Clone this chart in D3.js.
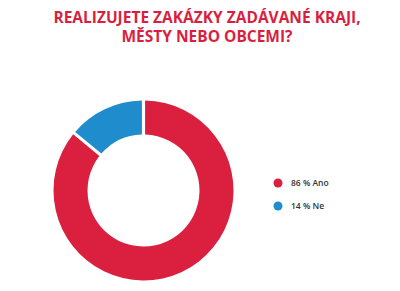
<!DOCTYPE html>
<html><head><meta charset="utf-8">
<script src="https://cdn.jsdelivr.net/npm/d3@7"></script>
<style>body{margin:0;background:#fff}svg{display:block}</style>
</head><body>
<svg id="c" width="400" height="291"></svg>
<script>
const titleLines = ["REALIZUJETE ZAKÁZKY ZADÁVANÉ KRAJI,", "MĚSTY NEBO OBCEMI?"];
const categories = ["Ano", "Ne"];
const values = [86, 14];
const colors = ["#da1f3f", "#1f8dcd"];

const svg = d3.select("#c");
svg.append("g").selectAll("text").data(titleLines).join("text")
  .attr("x", 207).attr("y", (d, i) => 23 + i * 19)
  .attr("text-anchor", "middle")
  .attr("font-family", "Open Sans").attr("font-weight", 700).attr("font-size", 15.5)
  .attr("fill", "#d91f40").text(d => d);

const pie = d3.pie().sort(null).value(d => d.v);
const data = categories.map((c, i) => ({c, v: values[i], col: colors[i]}));
const arc = d3.arc().innerRadius(56).outerRadius(90).padAngle(0.03);
const g = svg.append("g").attr("transform", "translate(143.5,190.5)");
g.selectAll("path").data(pie(data)).join("path")
  .attr("d", arc).attr("fill", d => d.data.col);

const lg = svg.append("g").attr("transform", "translate(278,183)");
const item = lg.selectAll("g").data(data).join("g")
  .attr("transform", (d, i) => `translate(0,${i * 23})`);
item.append("circle").attr("r", 4.5).attr("fill", d => d.col);
item.append("text").attr("x", 13).attr("dy", "0.35em")
  .attr("font-family", "Open Sans").attr("font-weight", 600).attr("font-size", 8.5)
  .attr("fill", "#333").text(d => `${d.v} % ${d.c}`);
</script>
</body></html>
